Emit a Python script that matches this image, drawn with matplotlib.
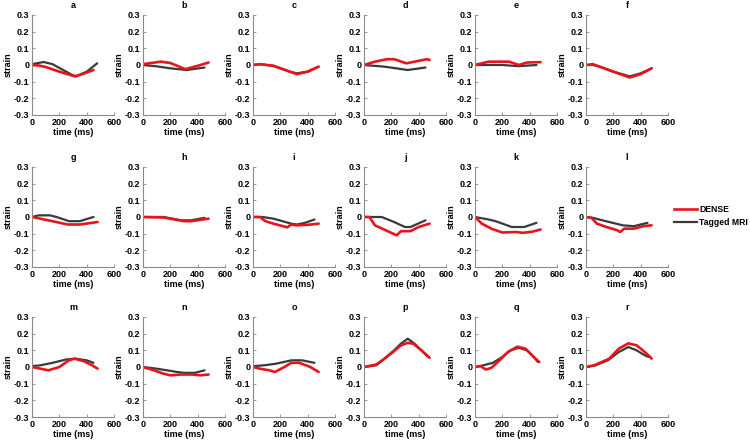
import matplotlib
matplotlib.use("Agg")
import matplotlib.pyplot as plt
from matplotlib.lines import Line2D

plt.rcParams['font.family'] = ['Liberation Sans Narrow', 'Liberation Sans', 'DejaVu Sans']
plt.rcParams['font.weight'] = 'bold'

panel_labels = list("abcdefghijklmnopqr")

# (time ms, strain) pairs per panel: DENSE (red) and Tagged MRI (dark gray)
dense_t = {
    'a': [0, 50, 100, 200, 300, 330, 400, 450],
    'b': [0, 60, 130, 200, 310, 400, 480],
    'c': [0, 50, 150, 270, 320, 400, 480],
    'd': [0, 80, 170, 220, 310, 400, 460, 480],
    'e': [0, 100, 250, 320, 380, 480],
    'f': [0, 50, 100, 200, 320, 400, 480],
    'g': [0, 120, 260, 350, 480],
    'h': [0, 150, 300, 350, 480],
    'i': [0, 50, 90, 150, 250, 280, 320, 400, 480],
    'j': [0, 40, 80, 160, 240, 270, 340, 400, 480],
    'k': [0, 50, 120, 200, 300, 350, 420, 480],
    'l': [0, 40, 80, 150, 230, 250, 280, 350, 420, 480],
    'm': [0, 60, 120, 200, 270, 310, 380, 440, 480],
    'n': [0, 80, 150, 200, 280, 360, 420, 480],
    'o': [0, 50, 120, 160, 230, 280, 340, 420, 480],
    'p': [0, 90, 150, 220, 270, 320, 360, 420, 480],
    'q': [0, 40, 80, 120, 180, 240, 310, 370, 430, 470],
    'r': [0, 60, 170, 240, 310, 370, 430, 470, 480],
}
dense_v = {
    'a': [0, -0.003, -0.012, -0.04, -0.065, -0.065, -0.045, -0.03],
    'b': [0.005, 0.012, 0.02, 0.012, -0.025, -0.005, 0.015],
    'c': [0, 0.005, -0.005, -0.04, -0.055, -0.04, -0.01],
    'd': [0, 0.02, 0.035, 0.035, 0.01, 0.025, 0.035, 0.03],
    'e': [0, 0.02, 0.02, 0.0, 0.015, 0.017],
    'f': [0, 0.005, -0.01, -0.04, -0.075, -0.055, -0.02],
    'g': [0, -0.02, -0.045, -0.045, -0.03],
    'h': [0, -0.003, -0.025, -0.025, -0.01],
    'i': [0, 0, -0.025, -0.04, -0.062, -0.045, -0.05, -0.047, -0.04],
    'j': [0, 0, -0.05, -0.08, -0.11, -0.085, -0.085, -0.06, -0.04],
    'k': [0, -0.04, -0.07, -0.093, -0.09, -0.095, -0.088, -0.075],
    'l': [0, -0.005, -0.04, -0.06, -0.08, -0.09, -0.07, -0.07, -0.055, -0.05],
    'm': [0, -0.01, -0.02, 0, 0.04, 0.05, 0.035, 0.01, -0.01],
    'n': [0, -0.02, -0.04, -0.05, -0.045, -0.045, -0.05, -0.045],
    'o': [0, -0.01, -0.02, -0.03, 0, 0.025, 0.025, 0, -0.03],
    'p': [0, 0.015, 0.05, 0.095, 0.13, 0.145, 0.14, 0.1, 0.055],
    'q': [0, 0.005, -0.015, -0.005, 0.04, 0.09, 0.122, 0.11, 0.06, 0.03],
    'r': [0, 0.01, 0.05, 0.11, 0.142, 0.13, 0.09, 0.06, 0.05],
}
tagged_t = {
    'a': [0, 85, 150, 250, 317, 400, 477],
    'b': [0, 100, 200, 320, 450],
    'c': [0, 50, 150, 270, 320, 400, 480],
    'd': [0, 150, 320, 450],
    'e': [0, 200, 320, 450],
    'f': [0, 50, 100, 200, 320, 400, 480],
    'g': [0, 50, 130, 180, 270, 350, 450],
    'h': [0, 150, 280, 350, 450],
    'i': [0, 70, 150, 280, 320, 380, 450],
    'j': [0, 130, 220, 300, 340, 450],
    'k': [0, 100, 150, 270, 360, 450],
    'l': [0, 50, 120, 270, 350, 450],
    'm': [0, 60, 150, 250, 320, 400, 450],
    'n': [0, 100, 250, 300, 380, 450],
    'o': [0, 80, 170, 280, 360, 450],
    'p': [0, 90, 150, 220, 270, 320, 370, 420, 470],
    'q': [0, 60, 130, 200, 260, 320, 380, 430, 460],
    'r': [0, 70, 160, 240, 310, 370, 430, 460],
}
tagged_v = {
    'a': [0.005, 0.018, 0.005, -0.04, -0.07, -0.04, 0.01],
    'b': [0, -0.008, -0.02, -0.03, -0.015],
    'c': [0, 0.005, -0.005, -0.04, -0.05, -0.04, -0.01],
    'd': [0, -0.01, -0.03, -0.015],
    'e': [0, 0.0, -0.007, 0.0],
    'f': [0, 0.0, -0.01, -0.04, -0.068, -0.05, -0.02],
    'g': [0, 0.01, 0.01, 0, -0.025, -0.025, 0],
    'h': [0, 0, -0.02, -0.02, -0.005],
    'i': [0, 0, -0.01, -0.04, -0.045, -0.035, -0.015],
    'j': [0, 0, -0.03, -0.06, -0.06, -0.02],
    'k': [0, -0.015, -0.025, -0.06, -0.06, -0.035],
    'l': [0, -0.005, -0.02, -0.05, -0.055, -0.035],
    'm': [0.005, 0.01, 0.025, 0.045, 0.05, 0.04, 0.025],
    'n': [0, -0.01, -0.03, -0.035, -0.035, -0.02],
    'o': [0.005, 0.01, 0.02, 0.04, 0.04, 0.025],
    'p': [0, 0.01, 0.05, 0.1, 0.14, 0.17, 0.14, 0.1, 0.06],
    'q': [0, 0.01, 0.025, 0.06, 0.1, 0.115, 0.1, 0.06, 0.03],
    'r': [0, 0.01, 0.04, 0.09, 0.12, 0.1, 0.07, 0.06],
}

xticks = [0, 200, 400, 600]
yticks = [-0.3, -0.2, -0.1, 0, 0.1, 0.2, 0.3]
ytick_labels = ['-0.3', '-0.2', '-0.1', '0', '0.1', '0.2', '0.3']

RED = '#e8141b'
DARK = '#3a3a3a'
SPINE = '#8a8a8a'

fig = plt.figure(figsize=(7.5, 4.41), dpi=100)
W, H = 750.0, 441.0
col_left = [32, 143, 253, 364, 475, 586]
row_top = [15, 167, 317]
ax_w, ax_h = 82, 100

for i, lab in enumerate(panel_labels):
    r, c = divmod(i, 6)
    left = col_left[c] / W
    bottom = 1 - (row_top[r] + ax_h) / H
    ax = fig.add_axes([left, bottom, ax_w / W, ax_h / H])
    ax.plot(tagged_t[lab], tagged_v[lab], color=DARK, lw=1.6, solid_capstyle='round')
    ax.plot(dense_t[lab], dense_v[lab], color=RED, lw=1.9, solid_capstyle='round')
    ax.set_xlim(0, 600)
    ax.set_ylim(-0.3, 0.3)
    ax.set_xticks(xticks)
    ax.set_xticklabels([str(v) for v in xticks])
    ax.set_yticks(yticks)
    ax.set_yticklabels(ytick_labels)
    for s in ['top', 'right']:
        ax.spines[s].set_visible(False)
    for s in ['left', 'bottom']:
        ax.spines[s].set_color(SPINE)
        ax.spines[s].set_linewidth(0.8)
    ax.tick_params(direction='in', length=2, width=0.6, color=SPINE,
                   labelsize=6.5, pad=2)
    for t in ax.get_xticklabels() + ax.get_yticklabels():
        t.set_fontweight('bold')
    ax.set_title(lab, fontsize=6.5, fontweight='bold', pad=5)
    ax.set_xlabel('time (ms)', fontsize=6.5, fontweight='bold', labelpad=1)
    ax.set_ylabel('strain', fontsize=6.5, fontweight='bold', labelpad=1)

handles = [Line2D([0], [0], color=RED, lw=1.9), Line2D([0], [0], color=DARK, lw=1.6)]
fig.legend(handles, ['DENSE', 'Tagged MRI'], loc='center left',
           bbox_to_anchor=(674 / W, 1 - 216 / H), frameon=False,
           prop={'size': 6.2, 'weight': 'bold'}, handlelength=2.7,
           handletextpad=0.25, labelspacing=0.45, borderpad=0, borderaxespad=0)

fig.savefig('out.png', dpi=100)
